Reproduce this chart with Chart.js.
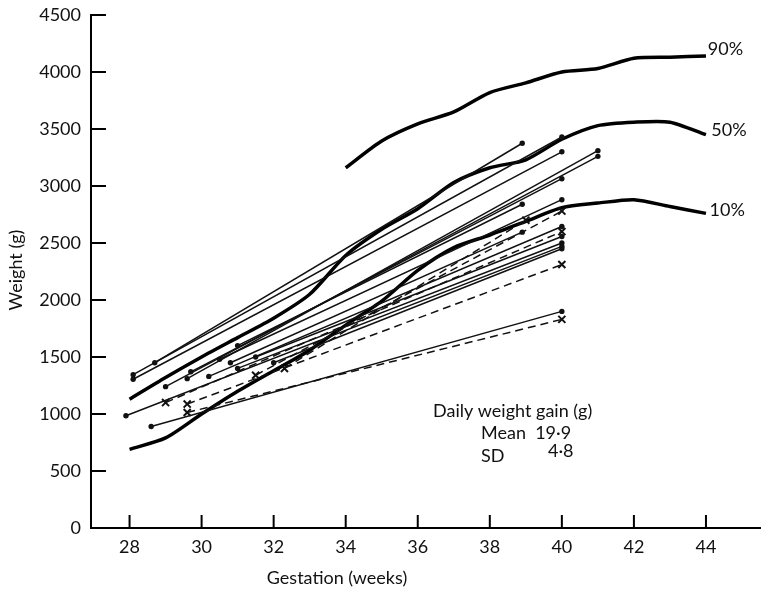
<!DOCTYPE html>
<html lang="en">
<head>
  <meta charset="UTF-8" />
  <title>Weight gain by gestation</title>
  <script src="https://cdn.jsdelivr.net/npm/chart.js"></script>
  <style>
    html, body { margin: 0; padding: 0; background: #fff; }
    #wrap { width: 767px; height: 592px; position: relative; }
  </style>
</head>
<body>
  <div id="wrap"><canvas id="gain"></canvas></div>

  <script>
    // percentile curves (weeks, grams)
    const p90Weeks = [34, 35, 36, 37, 38, 39, 40, 41, 42, 43, 44];
    const p90 = [3160, 3395, 3545, 3650, 3820, 3905, 4000, 4030, 4120, 4130, 4140];
    const p50Weeks = [28, 29, 30, 31, 32, 33, 34, 35, 36, 37, 38, 39, 40, 41, 42, 43, 44];
    const p50 = [1130, 1320, 1500, 1670, 1840, 2050, 2390, 2620, 2800, 3030, 3160, 3230, 3410, 3530, 3560, 3560, 3450];
    const p10Weeks = [28, 29, 30, 31, 32, 33, 34, 35, 36, 37, 38, 39, 40, 41, 42, 43, 44];
    const p10 = [690, 790, 1000, 1200, 1380, 1560, 1780, 1990, 2260, 2460, 2570, 2690, 2810, 2850, 2880, 2820, 2760];

    // individual infants, solid lines (dots)
    const solidStartWeek = [28.7, 28.1, 28.1, 29.6, 29.0, 27.9, 28.6, 29.7, 30.5, 31.0, 30.8, 30.2, 31.5, 31.0, 32.0];
    const solidStartWeight = [1450, 1345, 1305, 1310, 1240, 985, 890, 1370, 1480, 1600, 1450, 1330, 1500, 1400, 1450];
    const solidEndWeek = [38.9, 40, 40, 41, 41, 40, 40, 40, 40, 38.9, 38.9, 40, 40, 40, 40];
    const solidEndWeight = [3375, 3430, 3300, 3310, 3260, 2470, 1900, 3064, 2880, 2840, 2595, 2645, 2557, 2500, 2450];

    // individual infants, dashed lines (crosses)
    const dashStartWeek = [29.0, 29.6, 29.6, 31.5, 32.3];
    const dashStartWeight = [1100, 1087, 1013, 1340, 1400];
    const dashEndWeek = [40, 40, 40, 40, 39];
    const dashEndWeight = [2600, 2311, 1830, 2780, 2700];

    const xTicks = [28, 30, 32, 34, 36, 38, 40, 42, 44];
    const yTicks = [0, 500, 1000, 1500, 2000, 2500, 3000, 3500, 4000, 4500];
    const curveLabels = ["90%", "50%", "10%"];

    const FONT = "Lato, 'DejaVu Sans', sans-serif";
    const toPts = (w, g) => w.map((v, i) => ({ x: v, y: g[i] }));

    const datasets = [];
    solidStartWeek.forEach((w, i) => {
      datasets.push({
        data: [{ x: w, y: solidStartWeight[i] }, { x: solidEndWeek[i], y: solidEndWeight[i] }],
        showLine: true, borderColor: "#111", borderWidth: 1.5,
        pointRadius: 2.7, pointBackgroundColor: "#111", pointBorderWidth: 0
      });
    });
    dashStartWeek.forEach((w, i) => {
      datasets.push({
        data: [{ x: w, y: dashStartWeight[i] }, { x: dashEndWeek[i], y: dashEndWeight[i] }],
        showLine: true, borderColor: "#111", borderWidth: 1.5, borderDash: [8, 5],
        pointStyle: "crossRot", pointRadius: 5, pointBorderColor: "#111", pointBorderWidth: 2
      });
    });
    [[p90Weeks, p90], [p50Weeks, p50], [p10Weeks, p10]].forEach(([w, g]) => {
      datasets.push({
        data: toPts(w, g), showLine: true, borderColor: "#000", borderWidth: 3.5,
        pointRadius: 0, tension: 0.25
      });
    });

    // inward ticks, titles and texts
    const extras = {
      id: "extras",
      afterDraw(chart) {
        const { ctx, scales: { x, y } } = chart;
        ctx.save();
        ctx.strokeStyle = "#000";
        ctx.lineWidth = 2;
        yTicks.forEach(v => {
          const py = y.getPixelForValue(v);
          ctx.beginPath(); ctx.moveTo(x.left, py); ctx.lineTo(x.left + 15, py); ctx.stroke();
        });
        xTicks.forEach(v => {
          const px = x.getPixelForValue(v);
          ctx.beginPath(); ctx.moveTo(px, y.bottom); ctx.lineTo(px, y.bottom - 13); ctx.stroke();
        });

        ctx.fillStyle = "#111";
        ctx.font = "18px " + FONT;
        ctx.textBaseline = "middle";
        ctx.textAlign = "left";
        ctx.fillText(curveLabels[0], x.getPixelForValue(44.05), y.getPixelForValue(4200));
        ctx.fillText(curveLabels[1], x.getPixelForValue(44.15), y.getPixelForValue(3490));
        ctx.fillText(curveLabels[2], x.getPixelForValue(44.1), y.getPixelForValue(2790));

        ctx.fillText("Daily weight gain (g)", 433, 411);
        ctx.fillText("Mean  19·9", 481, 433);
        ctx.fillText("SD", 481, 456);
        ctx.fillText("4·8", 548, 451);

        ctx.textAlign = "center";
        ctx.fillText("Gestation (weeks)", 337, 578);
        ctx.translate(16, 270);
        ctx.rotate(-Math.PI / 2);
        ctx.fillText("Weight (g)", 0, 0);
        ctx.restore();
      }
    };

    new Chart(document.getElementById("gain"), {
      type: "scatter",
      data: { datasets },
      plugins: [extras],
      options: {
        responsive: true,
        maintainAspectRatio: false,
        animation: false,
        layout: { padding: { top: 15, right: 0, left: 0, bottom: 0 } },
        plugins: { legend: { display: false }, tooltip: { enabled: false } },
        scales: {
          x: {
            type: "linear", min: 26.93, max: 45.5,
            afterBuildTicks: s => { s.ticks = xTicks.map(v => ({ value: v })); },
            afterFit: s => { s.height = 64; },
            grid: { drawOnChartArea: false, drawTicks: false },
            border: { color: "#000", width: 2 },
            ticks: { color: "#111", font: { family: FONT, size: 18 }, padding: 8, callback: v => String(v) }
          },
          y: {
            min: 0, max: 4500,
            afterBuildTicks: s => { s.ticks = yTicks.map(v => ({ value: v })); },
            afterFit: s => { s.width = 91; },
            grid: { drawOnChartArea: false, drawTicks: false },
            border: { color: "#000", width: 2 },
            ticks: { color: "#111", font: { family: FONT, size: 18, lineHeight: 0.5 }, padding: 10, callback: v => String(v) }
          }
        }
      }
    });
  </script>
</body>
</html>
